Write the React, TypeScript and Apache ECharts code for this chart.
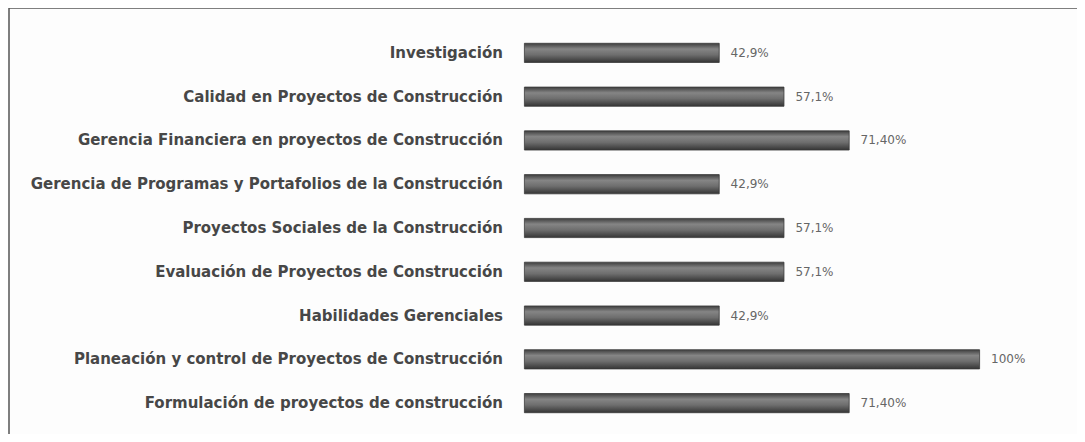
import React, { useEffect, useRef } from "react";
import * as echarts from "echarts";

const categories = [
  "Investigación",
  "Calidad en Proyectos de Construcción",
  "Gerencia Financiera en proyectos de Construcción",
  "Gerencia de Programas y Portafolios de la Construcción",
  "Proyectos Sociales de la Construcción",
  "Evaluación de Proyectos de Construcción",
  "Habilidades Gerenciales",
  "Planeación y control de Proyectos de Construcción",
  "Formulación de proyectos de construcción",
];
const values = [42.9, 57.1, 71.4, 42.9, 57.1, 57.1, 42.9, 100, 71.4];
const valueLabels = ["42,9%", "57,1%", "71,40%", "42,9%", "57,1%", "57,1%", "42,9%", "100%", "71,40%"];

export default function App() {
  const ref = useRef<HTMLDivElement>(null);
  useEffect(() => {
    const chart = echarts.init(ref.current!, null, { renderer: "svg" });
    chart.setOption({
      animation: false,
      backgroundColor: "#fdfdfd",
      graphic: [
        {
          type: "rect",
          shape: { x: 9, y: 8, width: 1100, height: 431 },
          style: { fill: "none", stroke: "#555", lineWidth: 1.5 },
          silent: true,
        },
      ],
      grid: { left: 524, right: 105, top: 31, bottom: 17, containLabel: false },
      xAxis: { type: "value", min: 0, max: 100, show: false },
      yAxis: {
        type: "category",
        data: categories,
        inverse: true,
        axisLine: { show: false },
        axisTick: { show: false },
        axisLabel: {
          margin: 21,
          color: "#474747",
          fontFamily: "DejaVu Sans",
          fontWeight: "bold",
          fontSize: 15,
        },
      },
      series: [
        {
          type: "bar",
          data: values,
          barWidth: 20,
          itemStyle: {
            color: new echarts.graphic.LinearGradient(0, 0, 0, 1, [
              { offset: 0, color: "#3e3e3e" },
              { offset: 0.3, color: "#858585" },
              { offset: 0.6, color: "#6e6e6e" },
              { offset: 1, color: "#353535" },
            ]),
            borderColor: "#3a3a3a",
            borderWidth: 0.8,
          },
          label: {
            show: true,
            position: "right",
            distance: 11,
            color: "#666",
            fontFamily: "DejaVu Sans",
            fontSize: 12,
            formatter: (p: any) => valueLabels[p.dataIndex],
          },
        },
      ],
    });
    return () => chart.dispose();
  }, []);
  return <div ref={ref} style={{ width: 1085, height: 442, margin: -8 }} />;
}
